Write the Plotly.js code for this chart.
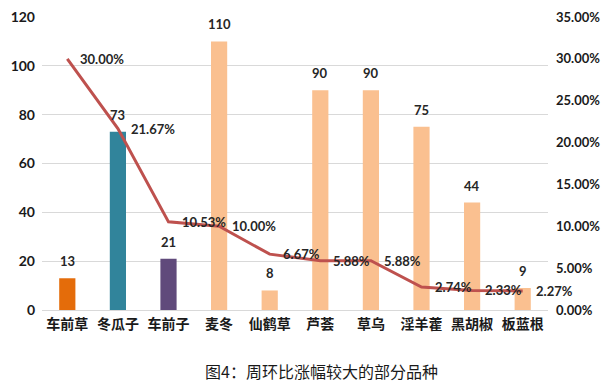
<!DOCTYPE html>
<html><head><meta charset="utf-8">
<script src="https://cdn.plot.ly/plotly-3.0.1.min.js"></script>
<style>html,body{margin:0;padding:0;background:#fff;}#chart{width:614px;height:387px;}</style>
</head><body><div id="chart"></div>
<script>
const categories = ["车前草","冬瓜子","车前子","麦冬","仙鹤草","芦荟","草乌","淫羊藿","黑胡椒","板蓝根"];
const barValues = [13, 73, 21, 110, 8, 90, 90, 75, 44, 9];
const pctValues = [0.30, 0.2167, 0.1053, 0.10, 0.0667, 0.0588, 0.0588, 0.0274, 0.0233, 0.0227];
const barColors = ["#E46C0A","#31849B","#604A7B","#FAC090","#FAC090","#FAC090","#FAC090","#FAC090","#FAC090","#FAC090"];
const leftTicks = [0,20,40,60,80,100,120];
const rightTicks = [0,0.05,0.10,0.15,0.20,0.25,0.30,0.35];

const fam = "Lato, 'Noto Sans CJK SC', sans-serif";
const labelFont = {family: fam, size: 13, color: '#262626', weight: 700};
const bar = {
  type: 'bar', x: categories, y: barValues, marker: {color: barColors},
  width: 0.32, hoverinfo: 'none'
};
const line = {
  type: 'scatter', mode: 'lines', x: categories, y: pctValues, yaxis: 'y2',
  line: {color: '#BE514E', width: 3}, hoverinfo: 'none'
};
const annotations = [];
categories.forEach((c, i) => {
  annotations.push({
    x: c, y: barValues[i], xref: 'x', yref: 'y', text: String(barValues[i]),
    showarrow: false, xanchor: 'center', yanchor: 'bottom', yshift: 7, font: labelFont
  });
  annotations.push({
    x: c, y: pctValues[i], xref: 'x', yref: 'y2', text: (pctValues[i]*100).toFixed(2) + '%',
    showarrow: false, xanchor: 'left', yanchor: 'middle', xshift: 11, font: labelFont
  });
});
annotations.push({
  text: '图4：周环比涨幅较大的部分品种', xref: 'paper', yref: 'paper',
  x: 0.553, y: -0.208, xanchor: 'center', yanchor: 'middle', showarrow: false,
  font: {family: "'Noto Sans CJK SC', sans-serif", size: 16, color: '#1a1a1a'}
});
const layout = {
  width: 614, height: 387,
  margin: {l: 42, r: 66, t: 17, b: 77},
  paper_bgcolor: '#fff', plot_bgcolor: '#fff',
  showlegend: false,
  xaxis: {
    range: [-0.5, categories.length - 0.5], autorange: false, ticklabelstandoff: 4,
    tickfont: {family: "'Noto Sans CJK SC', sans-serif", size: 14, color: '#1a1a1a', weight: 700},
    showline: false, ticks: '', showgrid: false, zeroline: false, fixedrange: true
  },
  yaxis: {
    range: [0, 120], tickvals: leftTicks, ticks: '', ticklabelstandoff: 6,
    tickfont: {family: fam, size: 14, color: '#1a1a1a', weight: 700},
    gridcolor: '#d9d9d9', gridwidth: 1, zeroline: true, zerolinecolor: '#d9d9d9', showline: false
  },
  yaxis2: {
    overlaying: 'y', side: 'right', range: [0, 0.35], tickvals: rightTicks, tickformat: '.2%',
    ticks: '', ticklabelstandoff: 7, showgrid: false, zeroline: false, showline: false,
    tickfont: {family: fam, size: 13, color: '#1a1a1a', weight: 700}
  },
  annotations: annotations
};
Plotly.newPlot('chart', [bar, line], layout, {staticPlot: true});
</script></body></html>
